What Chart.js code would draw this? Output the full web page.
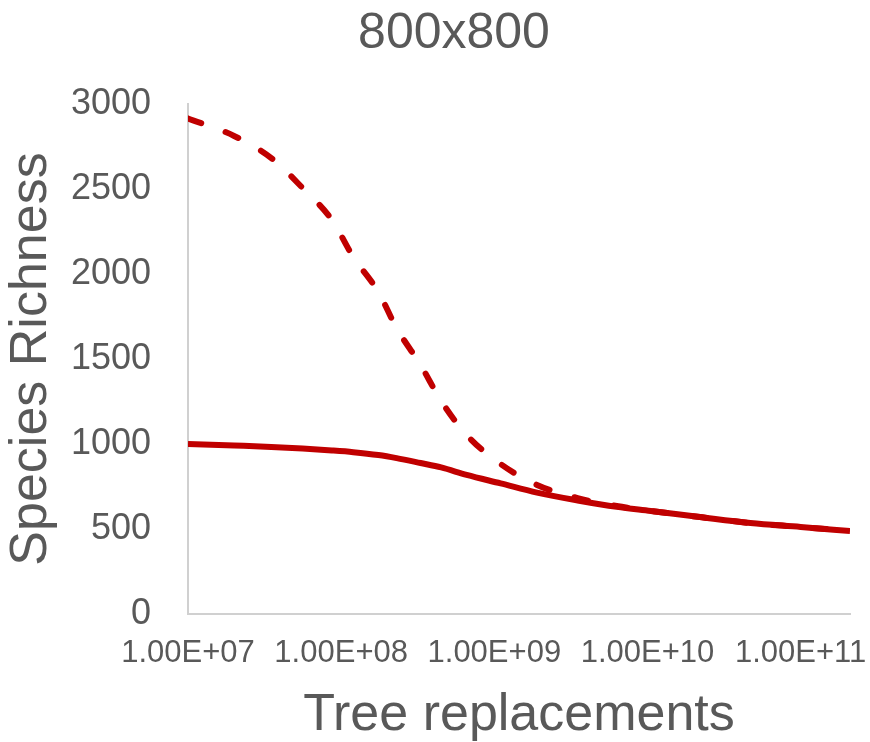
<!DOCTYPE html>
<html>
<head>
<meta charset="utf-8">
<title>800x800</title>
<script src="https://cdn.jsdelivr.net/npm/chart.js@4.4.1/dist/chart.umd.min.js"></script>
<style>
  html, body { margin: 0; padding: 0; background: #fff; }
  #wrap { width: 870px; height: 742px; }
</style>
</head>
<body>
<div id="wrap"><canvas id="richnessChart" width="870" height="742"></canvas></div>
<script>
// Tree replacements (x, log scale)
const replacements = [1e7, 2e7, 3.5e7, 5.6e7, 8.7e7, 1.2e8, 1.75e8, 2.3e8, 3.3e8, 4.5e8,
  6.6e8, 1.1e9, 1.9e9, 3.5e9, 6.3e9, 1.05e10, 2.2e10, 4.7e10, 1e11, 2.1e11];

// Species richness, dashed curve
const richnessDashed = [2915, 2812, 2682, 2506, 2318, 2100, 1894, 1682, 1465, 1253,
  1053, 882, 759, 682, 635, 606, 570, 535, 512, 488];

// Species richness, solid curve
const richnessSolid = [1000, 991, 983, 973, 962, 952, 935, 917, 888, 862,
  818, 768, 714, 668, 630, 606, 570, 535, 512, 488];

const xTickValues = [1e7, 1e8, 1e9, 1e10, 1e11];
const xTickLabels = ["1.00E+07", "1.00E+08", "1.00E+09", "1.00E+10", "1.00E+11"];
const yTickValues = [0, 500, 1000, 1500, 2000, 2500, 3000];

const chartTitle = "800x800";

const RED = "#C00000";
const GREY = "#595959";
const FONT = "'Liberation Sans', Arial, sans-serif";

function toPoints(xs, ys) {
  return xs.map((x, i) => ({ x: x, y: ys[i] }));
}

// Title sits a bit left of the plot centre, like the original
const offsetTitle = {
  id: "offsetTitle",
  afterDraw(chart) {
    const c = chart.ctx;
    c.save();
    c.fillStyle = GREY;
    c.font = "50px " + FONT;
    c.textAlign = "center";
    c.textBaseline = "middle";
    c.fillText(chartTitle, 454, 34);
    c.restore();
  },
};

document.addEventListener("DOMContentLoaded", function () {
  const canvas = document.getElementById("richnessChart");
  const ctx = canvas.getContext("2d");

  new Chart(ctx, {
    type: "line",
    data: {
      datasets: [
        {
          label: "dashed",
          data: toPoints(replacements, richnessDashed),
          borderColor: RED,
          borderWidth: 6,
          borderDash: [14, 26],
          borderCapStyle: "round",
          borderJoinStyle: "round",
          cubicInterpolationMode: "monotone",
          pointRadius: 0,
          fill: false,
        },
        {
          label: "solid",
          data: toPoints(replacements, richnessSolid),
          borderColor: RED,
          borderWidth: 6,
          borderCapStyle: "butt",
          borderJoinStyle: "round",
          cubicInterpolationMode: "monotone",
          pointRadius: 0,
          fill: false,
        },
      ],
    },
    options: {
      responsive: false,
      animation: false,
      devicePixelRatio: 1,
      layout: { padding: { top: 104, right: 20, bottom: 0, left: 0 } },
      plugins: {
        legend: { display: false },
        tooltip: { enabled: false },
        title: { display: false },
      },
      scales: {
        x: {
          type: "logarithmic",
          min: replacements[0],
          max: replacements[replacements.length - 1],
          grid: { display: false, drawTicks: false },
          border: { display: true, color: "#D0D0D0", width: 2 },
          afterBuildTicks: (scale) => {
            scale.ticks = xTickValues.map((v) => ({ value: v }));
          },
          afterFit: (scale) => {
            scale.height = 128;
            scale.paddingLeft = 0;
            scale.paddingRight = 0;
          },
          ticks: {
            autoSkip: false,
            maxRotation: 0,
            padding: 21,
            color: GREY,
            font: { family: FONT, size: 31 },
            callback: (value) => {
              const i = xTickValues.indexOf(value);
              return i >= 0 ? xTickLabels[i] : "";
            },
          },
          title: {
            display: true,
            text: "Tree replacements",
            color: GREY,
            font: { family: FONT, size: 52, lineHeight: 1.0 },
            padding: { top: 0, bottom: 0 },
          },
        },
        y: {
          min: 0,
          max: 3000,
          grid: { display: false, drawTicks: false },
          border: { display: true, color: "#D0D0D0", width: 2 },
          afterBuildTicks: (scale) => {
            scale.ticks = yTickValues.map((v) => ({ value: v }));
          },
          afterFit: (scale) => {
            scale.width = 188;
            scale.paddingTop = 0;
            scale.paddingBottom = 0;
          },
          ticks: {
            padding: 37,
            color: GREY,
            font: { family: FONT, size: 36 },
            callback: (value) => String(value),
          },
          title: {
            display: true,
            text: "Species Richness",
            color: GREY,
            font: { family: FONT, size: 52, lineHeight: 1.2 },
            padding: { top: 0, bottom: 0 },
          },
        },
      },
    },
    plugins: [offsetTitle],
  });
});
</script>
</body>
</html>
